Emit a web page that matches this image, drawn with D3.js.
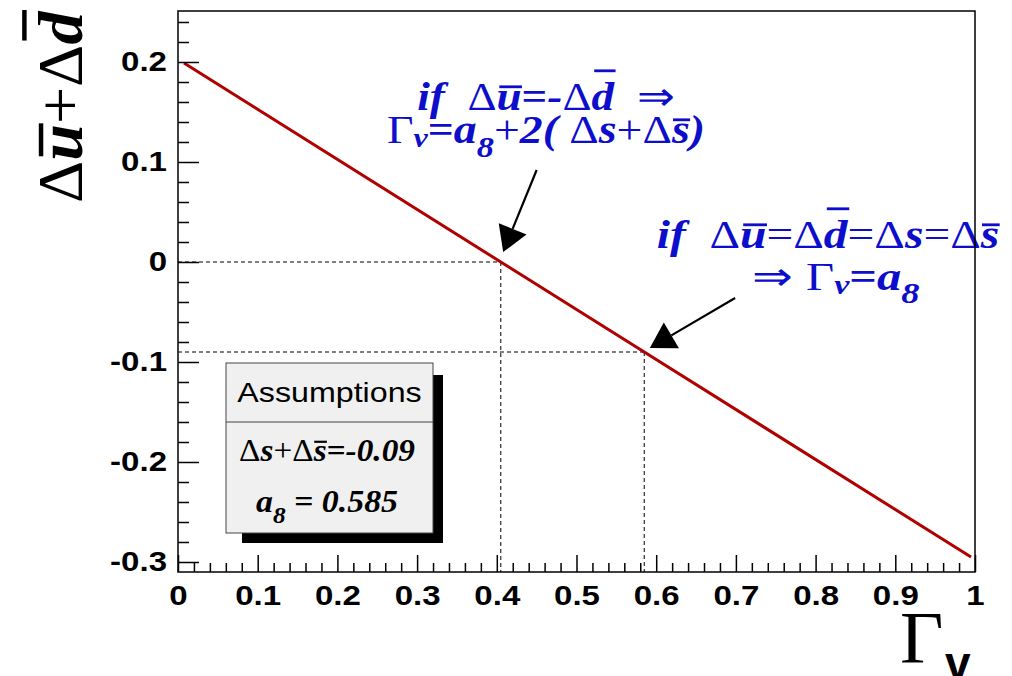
<!DOCTYPE html>
<html>
<head>
<meta charset="utf-8">
<script src="https://cdn.jsdelivr.net/npm/d3@7"></script>
<style>
  body { margin: 0; background: #fff; }
  svg { display: block; }
</style>
</head>
<body>
<script>
// Sea-quark sum versus the axial charge Gamma_v
const gammaV      = [0.0075, 0.405, 0.585, 0.995];
const sumUbarDbar = [0.199, 0.0, -0.09, -0.295];

// Special points marked with dashed guides
const crossGamma = [0.405, 0.585];
const crossSum   = [0.0, -0.09];

// Annotation arrows (data coordinates: tail -> tip)
const arrowTail = [[0.450, 0.092], [0.699, -0.036]];
const arrowTip  = [[0.408, 0.010], [0.592, -0.086]];

// Axis ticks
const xTickValues = [0, 0.1, 0.2, 0.3, 0.4, 0.5, 0.6, 0.7, 0.8, 0.9, 1];
const xTickLabels = ["0", "0.1", "0.2", "0.3", "0.4", "0.5", "0.6", "0.7", "0.8", "0.9", "1"];
const yTickValues = [-0.3, -0.2, -0.1, 0, 0.1, 0.2];
const yTickLabels = ["-0.3", "-0.2", "-0.1", "0", "0.1", "0.2"];

// Assumption box contents
const legendTitle = "Assumptions";
const strangeSum = -0.09;
const a8 = 0.585;

const W = 1012, H = 676;
const SERIF = "'Liberation Serif','Times New Roman',serif";
const SANS = "'Liberation Sans',Arial,sans-serif";
const BLUE = "#0d0dcc";
const RED = "#b00000";

const x = d3.scaleLinear().domain([0, 1]).range([178, 975]);
const y = d3.scaleLinear().domain([-0.31, 0.251]).range([572, 11]);
const [x0, x1] = x.range();
const [y0, y1] = y.range();

const svg = d3.select("body").append("svg").attr("width", W).attr("height", H);

// widen a plain text element horizontally by factor k
function widen(sel, k) {
  sel.each(function () {
    const len = this.getComputedTextLength();
    d3.select(this).attr("textLength", len * k).attr("lengthAdjust", "spacingAndGlyphs");
  });
}

// Mixed-font text with sub-scripts and over-bars
function richText(parent, cx, cy, parts, opt) {
  const g = parent.append("g");
  const t = g.append("text")
    .attr("text-anchor", opt.anchor || "middle")
    .attr("fill", opt.color)
    .style("white-space", "pre");
  let base = 0;
  const bars = [];
  parts.forEach(p => {
    const fs = opt.size * (p.scale || 1);
    const off = p.sub ? opt.size * p.sub : 0;
    const ts = t.append("tspan").text(p.t)
      .style("font-family", p.family || SERIF)
      .style("font-weight", p.weight || "bold")
      .style("font-style", p.upright ? "normal" : "italic")
      .style("font-size", fs + "px");
    if (off !== base) { ts.attr("dy", off - base); base = off; }
    if (p.bar) bars.push({ ts, h: p.bar, off });
  });
  bars.forEach(b => {
    const bb = b.ts.node().getBBox();
    const yy = b.off - b.h * opt.size;
    g.append("line")
      .attr("x1", bb.x + bb.width * 0.12).attr("x2", bb.x + bb.width * 1.02)
      .attr("y1", yy).attr("y2", yy)
      .attr("stroke", opt.color).attr("stroke-width", opt.size * 0.07);
  });
  let k = 1;
  if (opt.width) k = opt.width / g.node().getBBox().width;
  g.attr("transform", `translate(${cx},${cy}) rotate(${opt.rotate || 0}) scale(${k},1)`);
  return g;
}

// Plot area
svg.append("rect").attr("x", x0).attr("y", y1).attr("width", x1 - x0).attr("height", y0 - y1).attr("fill", "#fff");

// Dashed guides from the axes to the special points
const guides = svg.append("g").attr("stroke", "#000").attr("stroke-width", 1).attr("stroke-dasharray", "4,3").attr("fill", "none");
crossGamma.forEach((g, i) => {
  guides.append("line").attr("x1", x(0)).attr("x2", x(g)).attr("y1", y(crossSum[i])).attr("y2", y(crossSum[i]));
  guides.append("line").attr("x1", x(g)).attr("x2", x(g)).attr("y1", y(crossSum[i])).attr("y2", y0);
});

// Main line
const pts = gammaV.map((g, i) => [g, sumUbarDbar[i]]);
svg.append("path")
  .attr("d", d3.line().x(d => x(d[0])).y(d => y(d[1]))(pts))
  .attr("fill", "none").attr("stroke", RED).attr("stroke-width", 3);

// Arrows
arrowTail.forEach((tail, i) => {
  const tx = x(tail[0]), ty = y(tail[1]);
  const px = x(arrowTip[i][0]), py = y(arrowTip[i][1]);
  const dx = px - tx, dy = py - ty, len = Math.hypot(dx, dy);
  const ux = dx / len, uy = dy / len;
  const L = 25, hw = 15;
  const bx = px - ux * L, by = py - uy * L;
  svg.append("line").attr("x1", tx).attr("y1", ty).attr("x2", bx).attr("y2", by)
    .attr("stroke", "#000").attr("stroke-width", 2.2);
  svg.append("path")
    .attr("d", `M${px},${py}L${bx - uy * hw},${by + ux * hw}L${bx + uy * hw},${by - ux * hw}Z`)
    .attr("fill", "#000");
});

// Blue annotations
const sym = (t, extra) => Object.assign({ t, upright: true, weight: "normal" }, extra || {});
const bi = (t, extra) => Object.assign({ t }, extra || {});

richText(svg, 546, 110, [
  bi("if  "), sym("\u0394"), bi("u", { bar: 0.58 }), sym("=", { weight: "bold" }), bi("-"),
  sym("\u0394"), bi("d", { bar: 0.98 }), sym("  \u21D2")
], { size: 40, color: BLUE, width: 258 });

richText(svg, 546, 143, [
  sym("\u0393"), bi("v", { sub: 0.1, scale: 0.7 }), sym("=", { weight: "bold" }), bi("a"), bi("8", { sub: 0.34, scale: 0.75 }),
  sym("+"), bi("2( "), sym("\u0394"), bi("s"), sym("+"), sym("\u0394"), bi("s", { bar: 0.58 }), bi(")")
], { size: 40, color: BLUE, width: 318 });

richText(svg, 828, 248, [
  bi("if  "), sym("\u0394"), bi("u", { bar: 0.58 }), sym("="), sym("\u0394"), bi("d", { bar: 0.98 }),
  sym("="), sym("\u0394"), bi("s"), sym("="), sym("\u0394"), bi("s", { bar: 0.58 })
], { size: 40, color: BLUE, width: 343 });

richText(svg, 836, 290, [
  sym("\u21D2 "), sym("\u0393"), bi("v", { sub: 0.1, scale: 0.7 }), sym("=", { weight: "bold" }), bi("a"), bi("8", { sub: 0.32, scale: 0.75 })
], { size: 40, color: BLUE, width: 167 });

// Assumptions box with drop shadow
const box = { l: 226, t: 363, r: 433, b: 533, split: 422, sx: 16, sy: 12 };
svg.append("rect").attr("x", box.l + box.sx).attr("y", box.t + box.sy)
  .attr("width", box.r - box.l - 6).attr("height", box.b - box.t - 2).attr("fill", "#000");
svg.append("rect").attr("x", box.l).attr("y", box.t).attr("width", box.r - box.l).attr("height", box.b - box.t)
  .attr("fill", "#f0f0f0").attr("stroke", "#444").attr("stroke-width", 1);
svg.append("line").attr("x1", box.l).attr("x2", box.r).attr("y1", box.split).attr("y2", box.split)
  .attr("stroke", "#444").attr("stroke-width", 1);
const cxBox = (box.l + box.r) / 2;
svg.append("text").attr("x", cxBox).attr("y", 402).attr("text-anchor", "middle")
  .style("font-family", SANS).style("font-size", "28px").text(legendTitle)
  .call(widen, 1.15);
richText(svg, 327, 461, [
  sym("\u0394"), bi("s"), sym("+"), sym("\u0394"), bi("s", { bar: 0.62 }), bi("=" + strangeSum.toFixed(2))
], { size: 31, color: "#000", width: 176 });
richText(svg, 327, 512, [
  bi("a"), bi("8", { sub: 0.35, scale: 0.75 }), bi(" = " + a8.toFixed(3))
], { size: 31, color: "#000", width: 142 });

// Frame
svg.append("rect").attr("x", x0).attr("y", y1).attr("width", x1 - x0).attr("height", y0 - y1)
  .attr("fill", "none").attr("stroke", "#000").attr("stroke-width", 1.5);

// Axes: minor and major ticks pointing inward
const yMinor = y.ticks(30).filter(v => !yTickValues.some(m => Math.abs(m - v) < 1e-9));
const xMinor = x.ticks(50).filter(v => !xTickValues.some(m => Math.abs(m - v) < 1e-9));

svg.append("g").attr("transform", `translate(${x0},0)`)
  .call(d3.axisRight(y).tickValues(yMinor).tickSize(11).tickFormat(""))
  .call(g => g.select(".domain").remove());
const yAxis = svg.append("g").attr("transform", `translate(${x0},0)`)
  .call(d3.axisLeft(y).tickValues(yTickValues).tickFormat((d, i) => yTickLabels[i])
    .tickSizeInner(-21).tickSizeOuter(0).tickPadding(11))
  .call(g => g.select(".domain").remove());

svg.append("g").attr("transform", `translate(0,${y0})`)
  .call(d3.axisTop(x).tickValues(xMinor).tickSize(9).tickFormat(""))
  .call(g => g.select(".domain").remove());
const xAxis = svg.append("g").attr("transform", `translate(0,${y0})`)
  .call(d3.axisBottom(x).tickValues(xTickValues).tickFormat((d, i) => xTickLabels[i])
    .tickSizeInner(-17).tickSizeOuter(0).tickPadding(13))
  .call(g => g.select(".domain").remove());

svg.selectAll(".tick line").attr("stroke", "#000").attr("stroke-width", 1.5);
[xAxis, yAxis].forEach(a => {
  a.selectAll("text").attr("fill", "#000")
    .style("font-family", SANS).style("font-weight", "bold").style("font-size", "28px");
  a.selectAll("text").call(widen, 1.18);
});

// Axis titles
richText(svg, 82, 203, [
  sym("\u0394"), bi("u", { bar: 0.64 }), sym("+"), sym("\u0394"), bi("d", { bar: 0.9 })
], { size: 64, color: "#000", anchor: "start", rotate: -90, width: 193 });

const gt = svg.append("text").attr("x", 900).attr("y", 663).attr("fill", "#000");
gt.append("tspan").text("\u0393").style("font-family", SERIF).style("font-size", "75px");
gt.append("tspan").text("v").attr("x", 945).attr("y", 679)
  .style("font-family", SANS).style("font-weight", "bold").style("font-size", "46px");
</script>
</body>
</html>
